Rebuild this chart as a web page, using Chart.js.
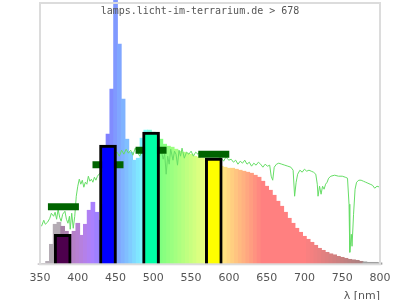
<!DOCTYPE html>
<html>
<head>
<meta charset="utf-8">
<title>lamps spectrum 678</title>
<script src="https://cdn.jsdelivr.net/npm/chart.js@4.4.0/dist/chart.umd.min.js"></script>
<style>
  body { margin: 0; background: #fff; }
  #wrap { width: 400px; height: 300px; }
</style>
</head>
<body>
<div id="wrap"><canvas id="spec" width="400" height="300"></canvas></div>
<script>
// lamp spectrum, 5 nm steps (relative units)
const spectrumNm = [350,355,360,365,370,375,380,385,390,395,
                    400,405,410,415,420,425,430,435,440,445,
                    450,455,460,465,470,475,480,485,490,495,
                    500,505,510,515,520,525,530,535,540,545,
                    550,555,560,565,570,575,580,585,590,595,
                    600,605,610,615,620,625,630,635,640,645,
                    650,655,660,665,670,675,680,685,690,695,
                    700,705,710,715,720,725,730,735,740,745,
                    750,755,760,765,770,775,780,785,790,795,800];
const spectrumVal = [0.5,1,3,20,40,42,38,33,30,33,
                     41,29,40,54,62,52,44,60,130,175,
                     300,220,165,125,112,104,106,126,134,134,
                     132,128,125,120,118,117,115,113,112,111,
                     110,108,107,106,104,102,100,99,98,97,
                     96,96,95,94,93,92,91,89,87,83,
                     78,74,69,63,58,52,46,41,36,32,
                     28,25,22,19,16,14,12,10.5,9.5,8,
                     7,6,5,4.5,4,3,2.5,2,2,2,1.5];

// sunlight reference curve
const sunNm = [352,355,357,360,363,365,368,370,372,374,376,378,380,383,385,387,389,390,392,394,396,398,
               400,402,404,406,408,410,412,414,416,418,420,422,424,426,428,432,436,440,444,448,
               452,455,458,461,464,467,470,473,476,479,482,485,488,492,496,500,504,508,511,513,515,517,519,
               521,523,526,528,530,532,534,536,538,541,544,547,550,553,556,559,562,565,568,572,576,580,585,
               590,593,596,600,603,606,609,612,615,618,621,624,627,630,633,636,639,642,645,648,651,654,656,658,
               660,663,666,670,674,678,682,685,687,689,691,694,697,700,703,706,709,712,715,717,718,720,722,724,
               726,728,730,732,735,740,745,750,754,757,759,760,762,763,765,767,769,772,775,778,781,784,787,790,
               793,796,800];
const sunVal = [38,44,40,42,46,51,48,52,45,55,47,43,50,53,45,41,48,35,51,36,48,68,
                78,85,80,84,77,82,80,88,83,85,82,87,84,88,90,92,98,104,100,110,
                112,108,114,110,115,111,114,109,116,112,108,113,115,116,114,118,115,117,112,105,110,90,108,
                100,115,104,113,110,99,114,108,116,106,112,110,113,108,112,110,113,109,112,110,111,109,108,
                106,103,107,104,105,102,104,100,103,101,104,100,102,98,101,99,102,100,97,100,98,99,88,84,
                97,100,101,100,99,98,97,94,68,82,90,94,92,95,93,94,93,92,90,80,68,78,70,78,
                75,80,82,86,88,89,88,88,87,86,60,12,30,18,50,75,82,84,84,83,82,81,80,79,
                76,78,77];

// LED channels and their target levels
const ledNm = [380, 440, 497, 580];
const ledVal = [30, 119, 132, 106];
const targetNm = [381, 440, 497, 580];
const targetVal = [57.5, 99.5, 114, 110];

const titleText = 'lamps.licht-im-terrarium.de > 678';

function nmColor(nm, pale) {
  let r = 0, g = 0, b = 0;
  if (nm < 380) return pale ? '#b4acb4' : '#606060';
  if (nm >= 780) return pale ? '#a0a0a0' : '#404040';
  if (nm < 440) { r = (440 - nm) / 60; b = 1; }
  else if (nm < 490) { g = (nm - 440) / 50; b = 1; }
  else if (nm < 510) { g = 1; b = (510 - nm) / 20; }
  else if (nm < 580) { r = (nm - 510) / 70; g = 1; }
  else if (nm < 645) { r = 1; g = (645 - nm) / 65; }
  else { r = 1; }
  let f = 1;
  if (nm < 420) f = 0.3 + 0.7 * (nm - 380) / 40;
  else if (nm > 700) f = 0.3 + 0.7 * (780 - nm) / 80;
  r *= f; g *= f; b *= f;
  if (pale) { r = (r + 1) / 2; g = (g + 1) / 2; b = (b + 1) / 2; }
  return 'rgb(' + Math.round(r * 255) + ',' + Math.round(g * 255) + ',' + Math.round(b * 255) + ')';
}

const frame = {
  id: 'frame',
  afterDraw(chart) {
    const a = chart.chartArea, c = chart.ctx;
    c.save();
    c.strokeStyle = '#dcdcdc';
    c.lineWidth = 2;
    c.strokeRect(a.left, a.top, a.right - a.left, a.bottom - a.top);
    c.font = '10px "DejaVu Sans Mono"';
    c.fillStyle = '#555';
    c.textAlign = 'center';
    c.textBaseline = 'middle';
    c.fillText(titleText, 200, 11);
    c.restore();
  }
};

Chart.defaults.font.family = '"DejaVu Sans"';
Chart.defaults.color = '#555';

new Chart(document.getElementById('spec'), {
  type: 'bar',
  data: {
    datasets: [{
      type: 'scatter',
      data: targetNm.map((x, i) => ({x: x, y: targetVal[i]})),
      pointStyle: 'line',
      pointRadius: 15.5,
      borderWidth: 7,
      borderColor: '#006400',
      backgroundColor: '#006400',
      order: 2
    }, {
      type: 'bar',
      data: ledNm.map((x, i) => ({x: x, y: ledVal[i]})),
      backgroundColor: ledNm.map(n => nmColor(n, false)),
      borderColor: '#000',
      borderWidth: 3,
      barThickness: 17,
      grouped: false,
      order: 1
    }, {
      type: 'line',
      data: sunNm.map((x, i) => ({x: x, y: sunVal[i]})),
      borderColor: '#66dd66',
      borderWidth: 1,
      pointRadius: 0,
      tension: 0,
      order: 3
    }, {
      type: 'bar',
      data: spectrumNm.map((x, i) => ({x: x, y: spectrumVal[i]})),
      backgroundColor: spectrumNm.map(n => nmColor(n, true)),
      borderWidth: 0,
      barThickness: 4,
      grouped: false,
      clip: false,
      order: 4
    }]
  },
  options: {
    responsive: false,
    animation: false,
    events: [],
    layout: { autoPadding: false, padding: { left: 40, right: 20, top: 3, bottom: 0 } },
    plugins: { legend: { display: false }, tooltip: { enabled: false }, title: { display: false } },
    scales: {
      x: {
        type: 'linear',
        min: 350, max: 800,
        offset: false,
        grid: { display: false, drawTicks: false },
        border: { display: false },
        ticks: { stepSize: 50, padding: 7.4, font: { size: 11 }, maxRotation: 0 },
        title: { display: true, text: 'λ [nm]', align: 'end', font: { size: 11, lineHeight: 0.7 }, padding: 0 }
      },
      y: {
        display: false,
        min: 0, max: 261
      }
    }
  },
  plugins: [frame]
});
</script>
</body>
</html>
